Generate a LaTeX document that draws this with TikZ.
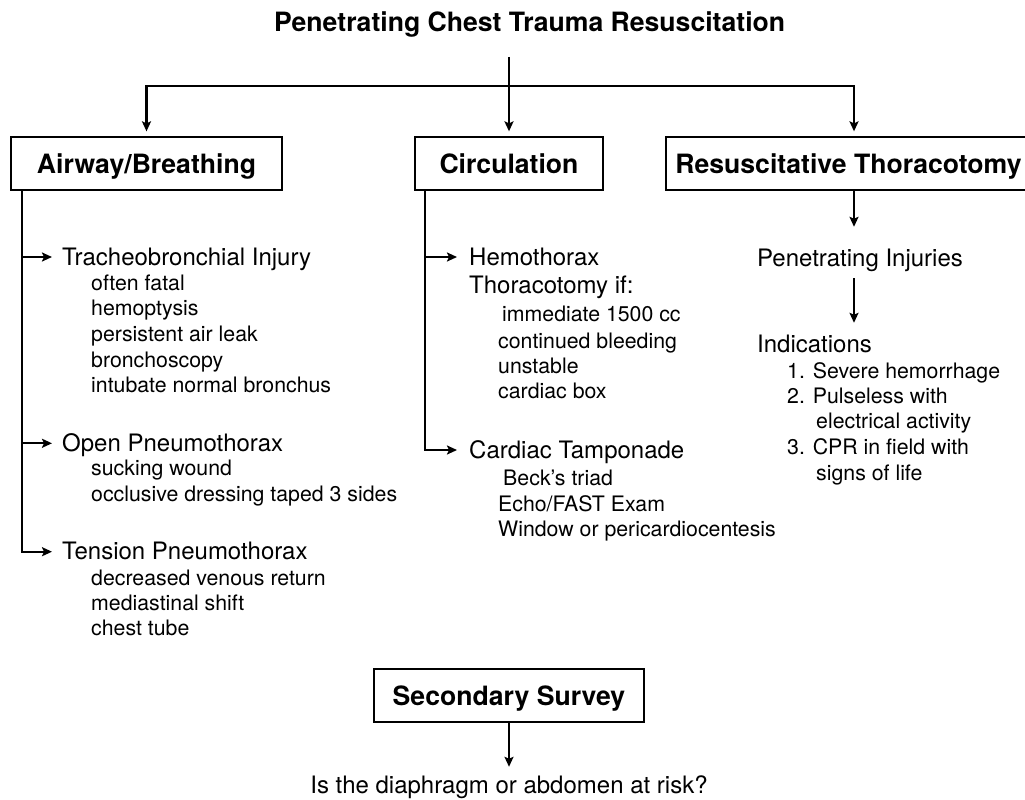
\documentclass[tikz,border=0pt]{standalone}
\usepackage{fontspec}
\setmainfont{TeX Gyre Heros}
\usetikzlibrary{arrows.meta}
\newcommand\figbold{\fontsize{26.6pt}{30pt}\selectfont\bfseries}
\newcommand\figmain{\fontsize{24pt}{28pt}\selectfont}
\newcommand\figsub{\fontsize{21.3pt}{25pt}\selectfont}
\begin{document}
\begin{tikzpicture}[x=1pt,y=-1pt,
  conn/.style={line width=2pt},
  arr/.style={line width=2.1pt,-{Stealth[length=10pt,width=9pt,inset=2pt]}},
  box/.style={draw,line width=1.3pt,minimum height=53pt,inner sep=0pt,
    text height=19pt,text depth=0pt,font=\figbold},
  head/.style={anchor=west,inner sep=0pt,text height=17pt,text depth=1pt,font=\figmain},
  line/.style={anchor=base west,inner sep=0pt,font=\figmain},
  item/.style={anchor=base west,inner sep=0pt,font=\figsub},
]
\path[use as bounding box] (0,0) rectangle (1025,800);
\clip (0,0) rectangle (1025,800);

% title and the three main branches
\node[anchor=base west,inner sep=0pt,font=\figbold] (title) at (274,32)
  {Penetrating Chest Trauma Resuscitation};
\coordinate (tstart) at (509,57);
\coordinate (split) at (509,86);

\node[box,minimum width=271pt] (air) at (146.5,163.5) {Airway/Breathing};
\node[box,minimum width=188pt] (circ) at (509,163.5) {Circulation};
% this box runs on past the right edge of the page
\node[box,minimum width=365pt] (rt) at (848.5,163.5) {Resuscitative Thoracotomy};
\coordinate (rttop) at ([xshift=5.5pt]rt.north);
\coordinate (rtbot) at ([xshift=5.5pt]rt.south);

\draw[arr,shorten >=5pt] (tstart) -- (circ.north);
\draw[arr,shorten >=5pt] (split) -| (air.north);
\draw[arr,shorten >=5pt] (split) -| (rttop);

% airway / breathing column
\coordinate (airsp) at ([xshift=11.7pt]air.south west);
\node[head] (tb) at (62,257) {Tracheobronchial Injury};
\node[item] (tb1) at (91,290) {often fatal};
\node[item] (tb2) at (91,315.7) {hemoptysis};
\node[item] (tb3) at (91,341.4) {persistent air leak};
\node[item] (tb4) at (91,367.1) {bronchoscopy};
\node[item] (tb5) at (91,392.8) {intubate normal bronchus};

\node[head] (op) at (62,443.3) {Open Pneumothorax};
\node[item] (op1) at (91,475) {sucking wound};
\node[item] (op2) at (91,501) {occlusive dressing taped 3 sides};

\node[head] (tp) at (62,551.7) {Tension Pneumothorax};
\node[item] (tp1) at (91,585) {decreased venous return};
\node[item] (tp2) at (91,610) {mediastinal shift};
\node[item] (tp3) at (91,635) {chest tube};

\draw[arr,shorten >=10pt] (airsp) |- (tb.west);
\draw[arr,shorten >=10pt] (airsp) |- (op.west);
\draw[arr,shorten >=10pt] (airsp) |- (tp.west);

% circulation column
\coordinate (circsp) at ([xshift=11pt]circ.south west);
\node[head] (he) at (469,257) {Hemothorax};
\node[line] (th) at (469,293.3) {Thoracotomy if:};
\node[item] (he1) at (502,321.7) {immediate 1500 cc};
\node[item] (he2) at (498,348.3) {continued bleeding};
\node[item] (he3) at (498,373.3) {unstable};
\node[item] (he4) at (498,398.3) {cardiac box};

\node[head] (ct) at (469,450) {Cardiac Tamponade};
\node[item] (ct1) at (503,485) {Beck’s triad};
\node[item] (ct2) at (498,511) {Echo/FAST Exam};
\node[item] (ct3) at (498,536) {Window or pericardiocentesis};

\draw[arr,shorten >=12pt] (circsp) |- (he.west);
\draw[arr,shorten >=12pt] (circsp) |- (ct.west);

% resuscitative thoracotomy column
\node[line,text height=17pt,text depth=5pt] (pi) at (757,266) {Penetrating Injuries};
\node[line,text height=17pt,text depth=5pt] (ind) at (757,352) {Indications};
\node[item] (in1) at (787,378) {1. Severe hemorrhage};
\node[item] (in2) at (787,403) {2. Pulseless with};
\node[item] (in2b) at (816,428) {electrical activity};
\node[item] (in3) at (787,454) {3. CPR in field with};
\node[item] (in3b) at (816,480) {signs of life};

\draw[arr,shorten >=22pt] (rtbot) -- (rtbot |- pi.north);
\draw[arr,shorten <=7pt,shorten >=12pt] (rtbot |- pi.south) -- (rtbot |- ind.north);

% secondary survey
\node[box,minimum width=270pt] (sec) at (509,695.5) {Secondary Survey};
\node[anchor=base,inner sep=0pt,font=\figmain,text height=17pt] (q) at (509,793)
  {Is the diaphragm or abdomen at risk?};
\draw[arr,shorten >=9pt] (sec.south) -- (sec.south |- q.north);
\end{tikzpicture}
\end{document}
